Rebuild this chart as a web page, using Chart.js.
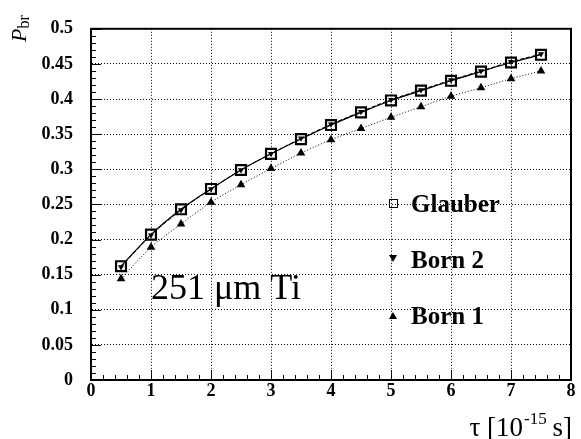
<!DOCTYPE html>
<html lang="en">
<head>
    <meta charset="UTF-8">
    <title>Pbr vs tau</title>
    <script src="https://cdn.jsdelivr.net/npm/chart.js"></script>
    <style>
        body { margin: 0; background: #fff; }
    </style>
</head>
<body>
    <canvas id="Chart" width="581" height="439"></canvas>

    <script>
        // data
        const tau = [0.5, 1, 1.5, 2, 2.5, 3, 3.5, 4, 4.5, 5, 5.5, 6, 6.5, 7, 7.5];
        const glauber = [0.162, 0.207, 0.243, 0.272, 0.299, 0.322, 0.343, 0.363, 0.381, 0.398, 0.412, 0.426, 0.439, 0.452, 0.463];
        const born2 = [0.161, 0.206, 0.242, 0.272, 0.299, 0.322, 0.344, 0.364, 0.382, 0.399, 0.413, 0.427, 0.440, 0.453, 0.464];
        const born1 = [0.144, 0.189, 0.222, 0.253, 0.278, 0.301, 0.323, 0.342, 0.358, 0.374, 0.389, 0.404, 0.416, 0.429, 0.440];
        const xTicks = [0, 1, 2, 3, 4, 5, 6, 7, 8];
        const yTicks = [0, 0.05, 0.1, 0.15, 0.2, 0.25, 0.3, 0.35, 0.4, 0.45, 0.5];

        const serif = '"Liberation Serif", "Times New Roman", serif';

        function pts(ys) {
            return tau.map((t, i) => ({ x: t, y: ys[i] }));
        }

        // frame, inward ticks, labels and legend
        const decor = {
            id: 'decor',
            afterDraw(chart) {
                const ctx = chart.ctx;
                const a = chart.chartArea;
                const xs = chart.scales.x, ys = chart.scales.y;
                ctx.save();
                ctx.strokeStyle = '#000';
                ctx.lineWidth = 1;
                // minor + major ticks on x
                for (let i = 0; i <= 40; i++) {
                    const px = Math.round(xs.getPixelForValue(i * 0.2)) + 0.5;
                    const len = i % 5 === 0 ? 10 : 5;
                    ctx.beginPath();
                    ctx.moveTo(px, a.bottom);
                    ctx.lineTo(px, a.bottom - len);
                    ctx.stroke();
                }
                // minor + major ticks on y
                for (let i = 0; i <= 50; i++) {
                    const py = Math.round(ys.getPixelForValue(i * 0.01)) + 0.5;
                    const len = i % 5 === 0 ? 10 : 5;
                    ctx.beginPath();
                    ctx.moveTo(a.left, py);
                    ctx.lineTo(a.left + len, py);
                    ctx.stroke();
                }
                // box
                ctx.lineWidth = 2;
                ctx.strokeRect(a.left, a.top, a.right - a.left, a.bottom - a.top);

                ctx.fillStyle = '#000';
                ctx.textBaseline = 'alphabetic';

                // y title, rotated
                ctx.save();
                ctx.translate(26, 42);
                ctx.rotate(-Math.PI / 2);
                ctx.font = 'italic 22px ' + serif;
                ctx.textAlign = 'left';
                ctx.fillText('P', 0, 0);
                const pw = ctx.measureText('P').width;
                ctx.font = '16px ' + serif;
                ctx.fillText('br', pw, 3);
                ctx.restore();

                // x title
                ctx.textAlign = 'left';
                const big = '27px ' + serif, sup = '17px ' + serif;
                ctx.font = big;
                const w1 = ctx.measureText('\u03c4 [10').width;
                const w3 = ctx.measureText(' s]').width;
                ctx.font = sup;
                const w2 = ctx.measureText('-15').width;
                let x0 = 572 - (w1 + w2 + w3);
                const base = 436;
                ctx.font = big;
                ctx.fillText('\u03c4 [10', x0, base);
                ctx.font = sup;
                ctx.fillText('-15', x0 + w1 + 1, base - 12);
                ctx.font = big;
                ctx.fillText(' s]', x0 + w1 + w2, base);

                // target label
                ctx.font = '36px ' + serif;
                ctx.fillText('251 \u03bcm Ti', 151, 299);

                // legend
                ctx.font = 'bold 25px ' + serif;
                ctx.fillText('Glauber', 411, 212);
                ctx.fillText('Born 2', 411, 268);
                ctx.fillText('Born 1', 411, 324);
                ctx.lineWidth = 1;
                ctx.strokeRect(389.5, 199.5, 8, 8);
                ctx.beginPath();
                ctx.moveTo(389, 255); ctx.lineTo(397, 255); ctx.lineTo(393, 262); ctx.closePath();
                ctx.fill();
                ctx.beginPath();
                ctx.moveTo(389, 319); ctx.lineTo(397, 319); ctx.lineTo(393, 312); ctx.closePath();
                ctx.fill();
                ctx.restore();
            }
        };

        const ctx = document.getElementById('Chart');
        new Chart(ctx, {
            type: 'scatter',
            data: {
                datasets: [{
                    label: 'Glauber',
                    data: pts(glauber),
                    showLine: true,
                    borderColor: '#000',
                    borderWidth: 1.2,
                    pointStyle: 'rect',
                    pointRadius: 7,
                    pointBorderWidth: 2.2,
                    pointBorderColor: '#000',
                    pointBackgroundColor: 'rgba(0,0,0,0)',
                    cubicInterpolationMode: 'monotone'
                }, {
                    label: 'Born 2',
                    data: pts(born2),
                    showLine: true,
                    borderColor: '#000',
                    borderWidth: 1,
                    borderDash: [4, 2],
                    pointStyle: 'triangle',
                    rotation: 180,
                    pointRadius: 3.5,
                    pointBorderWidth: 0,
                    pointBackgroundColor: '#000',
                    cubicInterpolationMode: 'monotone'
                }, {
                    label: 'Born 1',
                    data: pts(born1),
                    showLine: true,
                    borderColor: '#000',
                    borderWidth: 1,
                    borderDash: [1, 2],
                    pointStyle: 'triangle',
                    pointRadius: 5,
                    pointBorderWidth: 0,
                    pointBackgroundColor: '#000',
                    cubicInterpolationMode: 'monotone'
                }]
            },
            options: {
                responsive: false,
                animation: false,
                layout: { padding: { top: 16, right: 10, left: 0, bottom: 0 } },
                plugins: {
                    legend: { display: false },
                    tooltip: { enabled: false }
                },
                scales: {
                    x: {
                        type: 'linear',
                        min: 0, max: 8,
                        afterFit: s => { s.height = 59; },
                        afterBuildTicks: s => { s.ticks = xTicks.map(v => ({ value: v })); },
                        ticks: {
                            color: '#000',
                            padding: 1,
                            maxRotation: 0,
                            font: { family: serif, size: 18, weight: 'bold' }
                        },
                        grid: { color: '#000', lineWidth: 1, drawTicks: false },
                        border: { display: true, color: '#000', width: 2, dash: [1, 2] }
                    },
                    y: {
                        min: 0, max: 0.5,
                        afterFit: s => { s.width = 91; },
                        afterBuildTicks: s => { s.ticks = yTicks.map(v => ({ value: v })); },
                        ticks: {
                            color: '#000',
                            padding: 18,
                            font: { family: serif, size: 18, weight: 'bold' },
                            callback: v => String(+v.toFixed(2))
                        },
                        grid: { color: '#000', lineWidth: 1, drawTicks: false },
                        border: { display: true, color: '#000', width: 2, dash: [1, 2] }
                    }
                }
            },
            plugins: [decor]
        });
    </script>
</body>
</html>
